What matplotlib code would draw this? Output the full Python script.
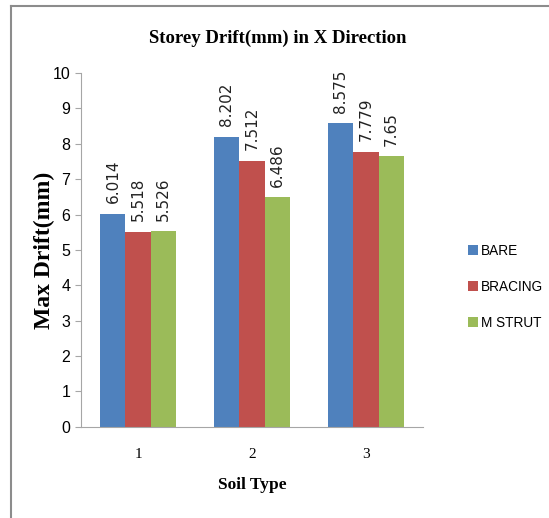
import matplotlib.pyplot as plt
from matplotlib.lines import Line2D
import numpy as np

soil_types = ["1", "2", "3"]
bare = [6.014, 8.202, 8.575]
bracing = [5.518, 7.512, 7.779]
m_strut = [5.526, 6.486, 7.65]
series_names = ["BARE", "BRACING", "M STRUT"]
colors = ["#4F81BD", "#C0504D", "#9BBB59"]

fig = plt.figure(figsize=(5.49, 5.18), dpi=100)
ax = fig.add_axes([81 / 549, 0.176, (423 - 81) / 549, 0.683])

x = np.arange(1, len(soil_types) + 1)
w = 0.22
handles = []
for i, (vals, name, c) in enumerate(zip([bare, bracing, m_strut], series_names, colors)):
    pos = x + (i - 1) * w
    b = ax.bar(pos, vals, width=w, color=c, label=name)
    handles.append(b)
    for p, v in zip(pos, vals):
        ax.text(p, v + 0.3, f"{v:g}", rotation=90, ha="center", va="bottom",
                fontsize=11, family="DejaVu Sans", color="#222222")

ax.set_xlim(0.5, 3.5)
ax.set_ylim(0, 10)
ax.set_yticks(range(0, 11))
ax.set_xticks(x)
ax.set_xticklabels(soil_types)

for s in ["top", "right"]:
    ax.spines[s].set_visible(False)
for s in ["left", "bottom"]:
    ax.spines[s].set_color("#a6a6a6")
ax.tick_params(axis="y", direction="out", length=4, color="#a6a6a6", labelsize=11.5, pad=3.6)
ax.tick_params(axis="x", length=0, labelsize=11, pad=15.5)
for lbl in ax.get_yticklabels():
    lbl.set_family("Liberation Sans")
for lbl in ax.get_xticklabels():
    lbl.set_family("Liberation Serif")

ax.set_title("Storey Drift(mm) in X Direction", family="Liberation Serif",
             fontweight="bold", fontsize=13.5, pad=22, x=0.575)
ax.set_xlabel("Soil Type", family="Liberation Serif", fontweight="bold",
              fontsize=12.5, labelpad=11.5)
ax.set_ylabel("Max Drift(mm)", family="Liberation Serif", fontweight="bold",
              fontsize=17, labelpad=-2)

leg = fig.legend(handles=handles, labels=series_names, loc="center left",
                 bbox_to_anchor=(0.83, 1 - 287 / 518), frameon=False, handlelength=0.75,
                 handleheight=0.75, handletextpad=0.2, labelspacing=1.6,
                 prop={"family": "Liberation Sans", "size": 9.8})

# outer frame: top and left edges
fig.add_artist(Line2D([11 / 549, 1], [1 - 6 / 518, 1 - 6 / 518], color="#8c8c8c", lw=1.5,
                      transform=fig.transFigure))
fig.add_artist(Line2D([11 / 549, 11 / 549], [0, 1 - 6 / 518], color="#8c8c8c", lw=1.5,
                      transform=fig.transFigure))

fig.savefig("out.png", dpi=100)
